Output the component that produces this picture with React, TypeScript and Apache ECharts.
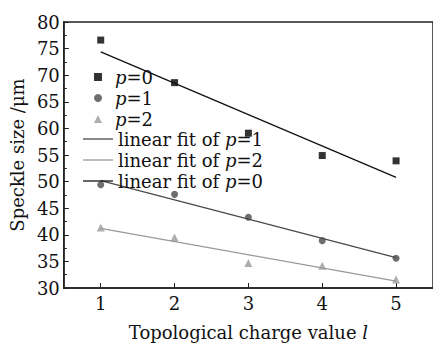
import React, { useEffect, useRef } from "react";
import * as echarts from "echarts";

const xValues = [1, 2, 3, 4, 5];
const p0 = [76.6, 68.6, 59.1, 54.9, 53.9];
const p1 = [49.4, 47.6, 43.3, 38.9, 35.6];
const p2 = [41.35, 39.5, 34.7, 34.2, 31.6];
const fitX = [1, 5];
const fit0 = [74.4, 50.8];
const fit1 = [50.2, 35.7];
const fit2 = [41.2, 31.3];
const xTicks = [1, 2, 3, 4, 5];

const FONT = "DejaVu Serif";
const FS = 18;

export default function App() {
  const ref = useRef<HTMLDivElement>(null);
  useEffect(() => {
    if (!ref.current) return;
    const chart = echarts.init(ref.current, null, { renderer: "svg" });
    const pts = (ys: number[]) => xValues.map((x, i) => [x, ys[i]]);
    const fit = (ys: number[]) => fitX.map((x, i) => [x, ys[i]]);
    const rich = {
      i: { fontStyle: "italic", fontFamily: FONT, fontSize: FS, color: "#111", lineHeight: 20 },
    };
    const legendNames: Record<string, string> = {
      "p=0": "{i|p}=0",
      "p=1": "{i|p}=1",
      "p=2": "{i|p}=2",
      "linear fit of p=1": "linear fit of {i|p}=1",
      "linear fit of p=2": "linear fit of {i|p}=2",
      "linear fit of p=0": "linear fit of {i|p}=0",
    };
    const legendText = { fontFamily: FONT, fontSize: FS, color: "#111", lineHeight: 20, rich };
    chart.setOption({
      animation: false,
      backgroundColor: "#fff",
      grid: {
        left: 57,
        top: 22,
        right: -3,
        bottom: 42,
        show: true,
        borderColor: "#222",
        borderWidth: 1.5,
        backgroundColor: "transparent",
      },
      legend: [
        {
          orient: "vertical",
          left: 89,
          top: 62,
          itemWidth: 8,
          itemHeight: 8,
          itemGap: 1,
          textStyle: { ...legendText, padding: [0, 0, 0, 8] },
          formatter: (n: string) => legendNames[n] || n,
          data: [
            { name: "p=0", icon: "rect" },
            { name: "p=1", icon: "circle" },
            { name: "p=2", icon: "triangle" },
          ],
        },
        {
          orient: "vertical",
          left: 78,
          top: 124,
          itemWidth: 30,
          itemHeight: 1.3,
          itemGap: 1,
          icon: "rect",
          textStyle: legendText,
          formatter: (n: string) => legendNames[n] || n,
          data: ["linear fit of p=1", "linear fit of p=2", "linear fit of p=0"],
        },
      ],
      xAxis: {
        type: "value",
        min: 0.5,
        max: 5.5,
        name: "Topological charge value {i|l}",
        nameLocation: "middle",
        nameGap: 34,
        nameTextStyle: { fontFamily: FONT, fontSize: FS, color: "#111", rich },
        axisLine: { lineStyle: { color: "#222", width: 1.5 } },
        axisTick: { inside: true, length: 5, customValues: xTicks, lineStyle: { color: "#222" } },
        axisLabel: { customValues: xTicks, fontFamily: FONT, fontSize: FS, color: "#111", margin: 6 },
        splitLine: { show: false },
      },
      yAxis: {
        type: "value",
        min: 30,
        max: 80,
        interval: 5,
        name: "Speckle size /μm",
        nameLocation: "middle",
        nameGap: 37,
        nameTextStyle: { fontFamily: FONT, fontSize: FS, color: "#111" },
        axisLine: { show: true, lineStyle: { color: "#222", width: 1.5 } },
        axisTick: { inside: true, length: 5, lineStyle: { color: "#222" } },
        minorTick: { show: true, splitNumber: 2, length: 3, lineStyle: { color: "#222" } },
        axisLabel: { fontFamily: FONT, fontSize: FS, color: "#111", margin: 4 },
        splitLine: { show: false },
      },
      series: [
        { name: "p=0", type: "scatter", symbol: "rect", symbolSize: 7, itemStyle: { color: "#000" }, data: pts(p0) },
        { name: "p=1", type: "scatter", symbol: "circle", symbolSize: 7, itemStyle: { color: "#4a4a4a" }, data: pts(p1) },
        { name: "p=2", type: "scatter", symbol: "triangle", symbolSize: 8, itemStyle: { color: "#9a9a9a" }, data: pts(p2) },
        { name: "linear fit of p=1", type: "line", symbol: "none", lineStyle: { color: "#4a4a4a", width: 1.3 }, itemStyle: { color: "#4a4a4a" }, data: fit(fit1) },
        { name: "linear fit of p=2", type: "line", symbol: "none", lineStyle: { color: "#9a9a9a", width: 1.3 }, itemStyle: { color: "#9a9a9a" }, data: fit(fit2) },
        { name: "linear fit of p=0", type: "line", symbol: "none", lineStyle: { color: "#111", width: 1.3 }, itemStyle: { color: "#111" }, data: fit(fit0) },
      ],
    });
    return () => chart.dispose();
  }, []);
  return <div ref={ref} style={{ position: "fixed", left: 0, top: 0, width: 433, height: 346 }} />;
}
